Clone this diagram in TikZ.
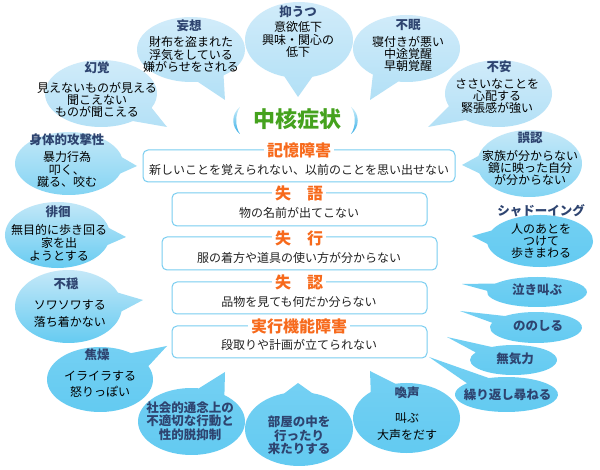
\documentclass[tikz,border=0pt]{standalone}
\usepackage{fontspec}
\setmainfont{Noto Sans CJK JP}
\definecolor{navy}{HTML}{2E4470}
\definecolor{paleT}{HTML}{D2ECFA}
\definecolor{paleB}{HTML}{B2E0F6}
\definecolor{midT}{HTML}{C8E9F8}
\definecolor{midB}{HTML}{7FD3F3}
\definecolor{satT}{HTML}{74D0F3}
\definecolor{satB}{HTML}{62CAF1}
\definecolor{boxblue}{HTML}{78CDF0}
\definecolor{ttlorange}{HTML}{F76A1C}
\definecolor{coregreen}{HTML}{45A21E}
\definecolor{parenT}{HTML}{CBEEFB}
\definecolor{parenB}{HTML}{39AEE6}
\definecolor{textdark}{HTML}{222222}
\newcommand{\bub}[8]{%
  \pgfmathsetmacro\bang{atan2(((#6)-(#2))/(#4),((#5)-(#1))/(#3))}%
  \pgfmathsetmacro\bsa{\bang+15}%
  \pgfmathsetmacro\bea{\bang+345}%
  \shade[top color=#7,bottom color=#8] ({#1+#3*cos(\bsa)},{#2+#4*sin(\bsa)})
    arc[start angle=\bsa,end angle=\bea,x radius=#3,y radius=#4] -- (#5,#6) -- cycle;
}
\begin{document}
\begin{tikzpicture}[x=1pt,y=-1pt,
  ttl/.style={font=\fontsize{12.5}{14}\selectfont\bfseries,text=navy,inner sep=0pt},
  bod/.style={font=\fontsize{12}{12.2}\selectfont,align=center,text=black,inner sep=0pt},
  nbod/.style={font=\fontsize{12.5}{13.5}\selectfont\bfseries,align=center,text=navy,inner sep=0pt},
  box/.style={draw=boxblue,line width=1pt,rounded corners=5pt,fill=white},
  btitle/.style={fill=white,text=ttlorange,font=\fontsize{16}{16}\selectfont\bfseries,inner xsep=3pt,inner ysep=0pt},
  btext/.style={font=\fontsize{12}{12}\selectfont,text=textdark,inner sep=0pt}]
\useasboundingbox (0,0) rectangle (600,470);
\fill[white] (0,0) rectangle (600,470);
% bubbles: cx cy rx ry tipx tipy top bottom
\bub{101}{93.5}{56}{33.5}{167}{127}{paleT}{paleB}
\bub{191}{49.5}{54}{32.5}{225}{100}{paleT}{paleB}
\bub{299}{40}{54}{38}{298}{97}{paleT}{paleB}
\bub{406.5}{48.5}{53.5}{33.5}{370}{100}{paleT}{paleB}
\bub{498.5}{93.5}{53.5}{33.5}{428}{127}{paleT}{paleB}
\bub{529.5}{163.5}{52.5}{33.5}{462}{165}{midT}{midB}
\bub{69}{163.5}{54}{31.5}{137}{166}{midT}{midB}
\bub{57.5}{235}{52.5}{33}{126}{237}{midT}{satB}
\bub{68.5}{306.5}{53.5}{36.5}{143}{300}{midT}{satB}
\bub{540}{241}{53}{26}{472}{236}{satT}{satB}
\bub{537}{292}{50}{15}{462}{284}{satT}{satB}
\bub{536}{327.5}{46}{15.5}{460}{311}{satT}{satB}
\bub{513.5}{360}{43.5}{15}{447}{337}{satT}{satB}
\bub{506.5}{394.5}{51.5}{17.5}{429}{357}{satT}{satB}
\bub{406.5}{418}{53.5}{35}{370}{371}{satT}{satB}
\bub{299}{429}{54}{37}{298}{383}{satT}{satB}
\bub{191.5}{421.5}{53.5}{33.5}{225}{372}{satT}{satB}
\bub{100}{379.5}{53}{32.5}{167}{346}{satT}{satB}
% bubble texts
\node[ttl] (t1) at (97,68) {幻覚};
\node[bod] (b1) at (97,100) {見えないものが見える\\聞こえない\\ものが聞こえる};
\node[ttl] (t2) at (189,26) {妄想};
\node[bod] (b2) at (191,54.5) {財布を盗まれた\\浮気をしている\\嫌がらせをされる};
\node[ttl] (t3) at (298,12) {抑うつ};
\node[bod] (b3) at (298,39.5) {意欲低下\\興味・関心の\\低下};
\node[ttl] (t4) at (408,25) {不眠};
\node[bod] (b4) at (408,54) {寝付きが悪い\\中途覚醒\\早朝覚醒};
\node[ttl] (t5) at (499,67) {不安};
\node[bod] (b5) at (497,96.5) {ささいなことを\\心配する\\緊張感が強い};
\node[ttl] (t6) at (530,138) {誤認};
\node[bod] (b6) at (530,168) {家族が分からない\\鏡に映った自分\\が分からない};
\node[ttl] (t7) at (67,139.5) {身体的攻撃性};
\node[bod] (b7) at (67,169.5) {暴力行為\\叩く、\\蹴る、咬む};
\node[ttl] (t8) at (58,212) {徘徊};
\node[bod,font=\fontsize{12}{13}\selectfont] (b8) at (59,243) {無目的に歩き回る\\家を出\\ようとする};
\node[ttl] (t9) at (66,284) {不穏};
\node[bod,font=\fontsize{12}{17}\selectfont] (b9) at (70,313.5) {ソワソワする\\落ち着かない};
\node[ttl] (t10) at (97,355) {焦燥};
\node[bod,font=\fontsize{12}{16}\selectfont] (b10) at (100,384) {イライラする\\怒りっぽい};
\node[nbod] (b11) at (190,421) {社会的通念上の\\不適切な行動と\\性的脱抑制};
\node[nbod] (b12) at (299,435.5) {部屋の中を\\行ったり\\来たりする};
\node[ttl] (t13) at (407,393) {喚声};
\node[bod,font=\fontsize{12}{17}\selectfont] (b13) at (407,426.5) {叫ぶ\\大声をだす};
\node[nbod] (b14) at (507.5,395) {繰り返し尋ねる};
\node[nbod] (b15) at (515,359) {無気力};
\node[nbod] (b16) at (538,326) {ののしる};
\node[nbod] (b17) at (537,289.5) {泣き叫ぶ};
\node[ttl] (t18) at (541,211) {シャドーイング};
\node[bod] (b18) at (541,241) {人のあとを\\つけて\\歩きまわる};
% central title
\shade[top color=parenT,bottom color=parenB] (240,107) .. controls (231,114) and (231,127) .. (240,134) .. controls (235,127) and (235,114) .. (240,107) -- cycle;
\shade[top color=parenT,bottom color=parenB] (351,107) .. controls (360,114) and (360,127) .. (351,134) .. controls (356,127) and (356,114) .. (351,107) -- cycle;
\node[text=coregreen,font=\fontsize{22}{22}\selectfont\bfseries,inner sep=0pt] (core) at (297,119.5) {中核症状};
% boxes
\node[box,minimum width=312pt,minimum height=32pt] (m1) at (299,166) {};
\node[btitle] (m1t) at (299,150.5) {記憶障害};
\node[btext] at (299,170) {新しいことを覚えられない、以前のことを思い出せない};
\node[box,minimum width=255pt,minimum height=33pt] (m2) at (299.5,209.5) {};
\node[btitle] (m2t) at (299,193.5) {失　語};
\node[btext] at (299,213) {物の名前が出てこない};
\node[box,minimum width=275pt,minimum height=33pt] (m3) at (299.5,253.5) {};
\node[btitle] (m3t) at (299,238.5) {失　行};
\node[btext] at (299,258) {服の着方や道具の使い方が分からない};
\node[box,minimum width=255pt,minimum height=32pt] (m4) at (299.5,298) {};
\node[btitle] (m4t) at (299,282.5) {失　認};
\node[btext] at (299,302) {品物を見ても何だか分らない};
\node[box,minimum width=255pt,minimum height=32pt] (m5) at (299.5,342) {};
\node[btitle] (m5t) at (299,326) {実行機能障害};
\node[btext] at (299,344.5) {段取りや計画が立てられない};
\end{tikzpicture}
\end{document}
